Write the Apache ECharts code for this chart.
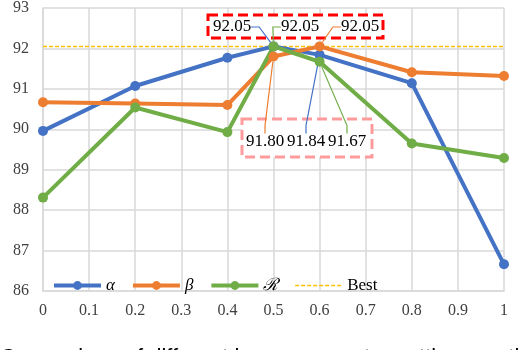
<!DOCTYPE html>
<html>
<head>
<meta charset="utf-8">
<script src="https://cdn.jsdelivr.net/npm/echarts@6/dist/echarts.min.js"></script>
<style>
  html, body { margin: 0; padding: 0; background: #fff; }
  #chart { width: 526px; height: 350px; }
</style>
</head>
<body>
<div id="chart"></div>
<script>
// values
const xValues = [0, 0.2, 0.4, 0.5, 0.6, 0.8, 1];
const alphaVals = [89.96, 91.07, 91.77, 92.05, 91.84, 91.14, 86.66];
const betaVals = [90.67, 90.64, 90.60, 91.80, 92.05, 91.41, 91.32];
const calRVals = [88.31, 90.54, 89.93, 92.05, 91.67, 89.65, 89.29];
const bestVal = 92.05;
const seriesNames = ['\u03b1', '\u03b2', '\u211b', 'Best'];
const colors = ['#4472C4', '#ED7D31', '#70AD47', '#FFC000'];

// where the annotated labels sit (pixel centre), by series and point index
const labelSpots = {
  0: { 3: [232, 27], 4: [306, 142] },
  1: { 3: [265, 142], 4: [360, 27] },
  2: { 3: [300, 27], 4: [347, 142] }
};

const serif = 'Liberation Serif';

function pairs(vals) {
  return xValues.map((x, i) => [x, vals[i]]);
}

function makeSeries(idx, vals) {
  const spots = labelSpots[idx];
  return {
    name: seriesNames[idx],
    type: 'line',
    data: pairs(vals).map((p, i) => {
      if (spots[i]) {
        return { value: p, label: { show: true } };
      }
      return p;
    }),
    symbol: 'circle',
    symbolSize: 10,
    z: 3,
    lineStyle: { width: 4, color: colors[idx] },
    itemStyle: { color: colors[idx] },
    label: {
      show: false,
      formatter: p => p.value[1].toFixed(2),
      fontFamily: serif,
      fontSize: 17,
      color: '#000'
    },
    labelLine: {
      show: true,
      length2: 8,
      lineStyle: { color: colors[idx], width: 1.2 }
    },
    labelLayout: function (params) {
      const s = spots[params.dataIndex];
      if (!s) return {};
      return { x: s[0], y: s[1], align: 'center', verticalAlign: 'middle' };
    },
    emphasis: { disabled: true }
  };
}

var chart = echarts.init(document.getElementById('chart'));

option = {
  animation: false,
  grid: { left: 43, right: 22, top: 6, bottom: 59 },
  xAxis: {
    type: 'value',
    min: 0,
    max: 1,
    interval: 0.1,
    axisLine: { show: true, lineStyle: { color: '#D9D9D9', width: 1.5 } },
    axisTick: { show: false },
    axisLabel: { fontFamily: serif, fontSize: 16, color: '#404040', margin: 12 },
    splitLine: { show: true, lineStyle: { color: '#D9D9D9', width: 1.5 } }
  },
  yAxis: {
    type: 'value',
    min: 86,
    max: 93,
    interval: 1,
    axisLine: { show: true, lineStyle: { color: '#D9D9D9', width: 1.5 } },
    axisTick: { show: false },
    axisLabel: { fontFamily: serif, fontSize: 16, color: '#404040', margin: 14 },
    splitLine: { show: true, lineStyle: { color: '#D9D9D9', width: 1.5 } }
  },
  legend: {
    data: seriesNames.map((n, i) => (i === 3
      ? {
          name: n,
          lineStyle: { width: 1.5, type: [4, 2], color: colors[3] },
          itemStyle: { color: 'rgba(0,0,0,0)', opacity: 0 },
          textStyle: { fontStyle: 'normal' }
        }
      : {
          name: n,
          lineStyle: { width: 4, color: colors[i] },
          textStyle: { fontStyle: 'italic' }
        })),
    left: 47,
    top: 272,
    itemWidth: 47,
    itemHeight: 11,
    itemGap: 16,
    textStyle: { fontFamily: serif, fontSize: 17, color: '#000' }
  },
  graphic: [
    {
      type: 'rect',
      shape: { x: 208, y: 15, width: 175, height: 23 },
      style: { fill: '#fff', stroke: '#FF0000', lineWidth: 3, lineDash: [10, 5] },
      z: 1
    },
    {
      type: 'rect',
      shape: { x: 242, y: 119, width: 130, height: 38 },
      style: { fill: '#fff', stroke: '#FF9B9B', lineWidth: 3, lineDash: [10, 5] },
      z: 1
    },
    {
      type: 'text',
      left: 0,
      top: 347,
      style: {
        text: 'Comparison of different hyperparameter settings on the',
        font: '22px "Liberation Sans"',
        fill: '#000'
      }
    }
  ],
  series: [
    makeSeries(0, alphaVals),
    makeSeries(1, betaVals),
    makeSeries(2, calRVals),
    {
      name: 'Best',
      type: 'line',
      data: [[0, bestVal], [1, bestVal]],
      symbol: 'none',
      z: 2,
      lineStyle: { color: colors[3], width: 1.5, type: [4, 2] },
      itemStyle: { color: colors[3] },
      emphasis: { disabled: true }
    }
  ]
};

chart.setOption(option);
</script>
</body>
</html>
